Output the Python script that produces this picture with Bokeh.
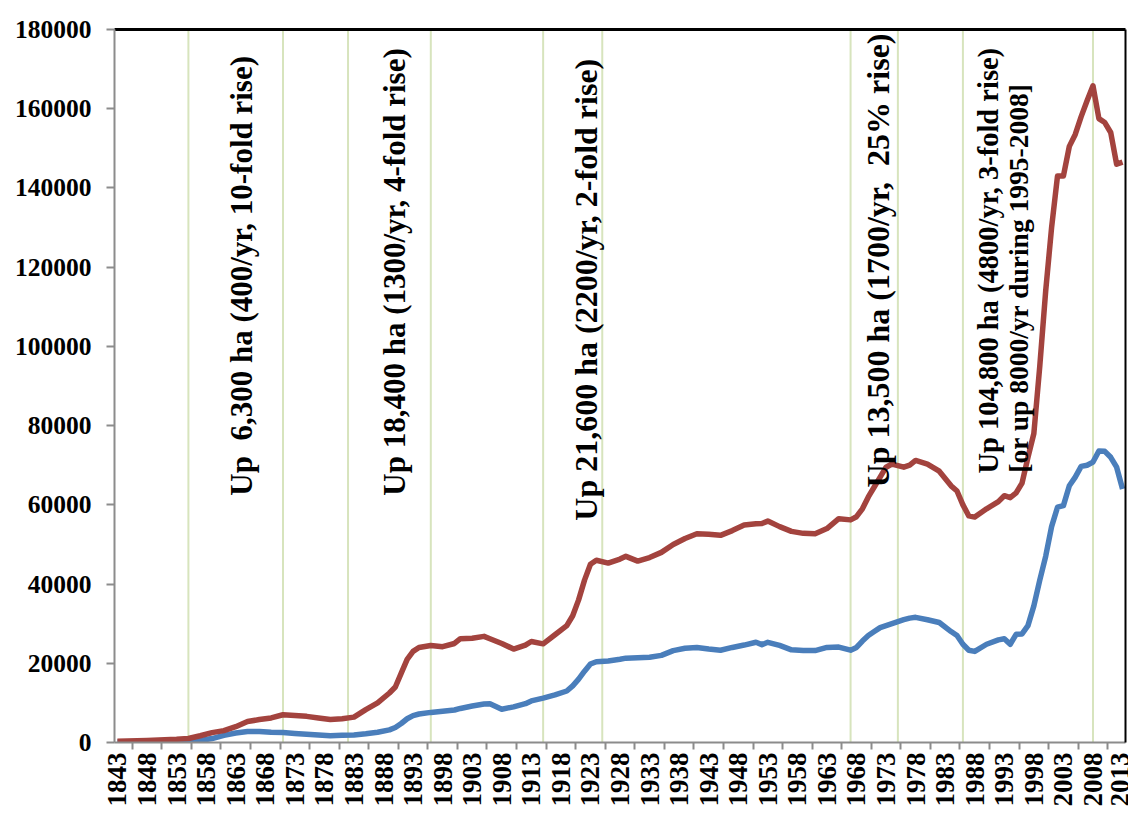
import math
from bokeh.plotting import figure
from bokeh.models import FixedTicker, LinearAxis, Label, Span, Range1d
from bokeh.embed import file_html
from bokeh.resources import INLINE

# ---- data ----
years = [
    1843, 1848, 1853, 1855, 1857, 1859, 1861, 1863, 1865, 1867,
    1869, 1871, 1873, 1875, 1877, 1879, 1881, 1883, 1885, 1887,
    1889, 1890, 1891, 1892, 1893, 1894, 1896, 1898, 1900, 1901,
    1903, 1905, 1906, 1908, 1910, 1912, 1913, 1915, 1917, 1919,
    1920, 1921, 1922, 1923, 1924, 1926, 1928, 1929, 1931, 1933,
    1935, 1937, 1939, 1941, 1943, 1945, 1947, 1949, 1951, 1952,
    1953, 1955, 1957, 1959, 1961, 1963, 1965, 1967, 1968, 1969,
    1970, 1971, 1972, 1973, 1974, 1976, 1977, 1978, 1980, 1982,
    1984, 1985, 1986, 1987, 1988, 1990, 1992, 1993, 1994, 1995,
    1996, 1997, 1998, 1999, 2000, 2001, 2002, 2003, 2004, 2005,
    2006, 2007, 2008, 2009, 2010, 2011, 2012, 2013]

red = [
    300, 500, 800, 1000, 1700, 2500, 3000, 4000, 5300, 5800,
    6200, 7000, 6800, 6600, 6200, 5800, 6000, 6400, 8300, 10000,
    12500, 14000, 17500, 21000, 23000, 24000, 24500, 24200, 25000, 26200,
    26300, 26800, 26200, 25000, 23600, 24600, 25500, 24900, 27200, 29500,
    32000, 36000, 41000, 45000, 46000, 45300, 46300, 47000, 45800, 46700,
    48000, 50000, 51500, 52700, 52600, 52300, 53500, 54900, 55200, 55300,
    55900, 54500, 53300, 52800, 52700, 54000, 56500, 56200, 57000, 59000,
    62000, 64500, 67000, 69500, 70300, 69500, 70000, 71200, 70300, 68500,
    64800, 63500, 60000, 57200, 56900, 59000, 60800, 62300, 61800, 63000,
    65500, 72000, 78000, 95000, 114000, 130000, 143000, 143000, 150500, 153500,
    158000, 162000, 165800, 157500, 156500, 154000, 146000, 146500]

blue = [
    100, 100, 150, 250, 500, 1000, 1800, 2400, 2800, 2800,
    2600, 2500, 2300, 2100, 1900, 1700, 1800, 1900, 2200, 2600,
    3200, 3800, 4800, 6000, 6800, 7200, 7600, 7900, 8200, 8600,
    9200, 9700, 9800, 8400, 9000, 9800, 10500, 11200, 12000, 13000,
    14300, 16000, 18000, 19800, 20400, 20600, 21000, 21300, 21400, 21500,
    22000, 23200, 23800, 24000, 23600, 23300, 24000, 24600, 25300, 24700,
    25300, 24500, 23400, 23200, 23200, 24000, 24100, 23300, 24000, 25600,
    27000, 28000, 29000, 29500, 30000, 31000, 31400, 31600, 31000, 30300,
    28000, 27000, 24800, 23300, 23000, 24800, 25900, 26200, 24800, 27300,
    27400, 29500, 34500, 41000, 47000, 54500, 59400, 59800, 64800, 67000,
    69700, 70000, 70800, 73600, 73500, 72000, 69500, 64000]

x_tick_years = list(range(1843, 2014, 5))
x_tick_labels = [str(y) for y in x_tick_years]
y_ticks = [0, 20000, 40000, 60000, 80000, 100000, 120000, 140000, 160000, 180000]
y_tick_labels = ["0", "20000", "40000", "60000", "80000", "100000",
                 "120000", "140000", "160000", "180000"]

period_years = [1855, 1871, 1882, 1896, 1915, 1925, 1967, 1975, 1986, 2008]

NB = "\u00a0"
notes = [
    "Up" + NB + " 6,300 ha (400/yr, 10-fold rise)",
    "Up 18,400 ha (1300/yr, 4-fold rise)",
    "Up 21,600 ha (2200/yr, 2-fold rise)",
    "Up 13,500 ha (1700/yr," + NB + " 25% rise)",
    "Up 104,800 ha (4800/yr, 3-fold rise)",
    "[or up 8000/yr during 1995-2008]",
]
note_x = [1864.0, 1889.9, 1922.3, 1971.7, 1990.3, 1995.4]
note_y = [62300, 62300, 56000, 64400, 67900, 68100]
note_size = ["31px", "31px", "32px", "32px", "28.5px", "27.5px"]

RED = "#A3433E"
BLUE = "#4A7EBB"
AXIS_GREY = "#8C8C8C"
FONT = "Liberation Serif"

p = figure(frame_width=1011, frame_height=713,
           x_range=Range1d(1842.5, 2013.5), y_range=Range1d(0, 180000),
           output_backend="svg", toolbar_location=None,
           x_axis_location=None, y_axis_location="left",
           min_border_left=114, min_border_right=3,
           min_border_top=29, min_border_bottom=76)
p.grid.visible = False
p.outline_line_color = None
p.background_fill_color = "white"
p.border_fill_color = "white"

# y axis
ya = p.yaxis[0]
ya.ticker = FixedTicker(ticks=y_ticks)
ya.major_label_overrides = dict(zip(y_ticks, y_tick_labels))
ya.axis_line_color = AXIS_GREY
ya.axis_line_width = 2
ya.major_tick_line_color = AXIS_GREY
ya.major_tick_line_width = 2
ya.major_tick_out = 8
ya.major_tick_in = 0
ya.minor_tick_line_color = None
ya.major_label_standoff = 15
ya.major_label_text_font = FONT
ya.major_label_text_font_style = "bold"
ya.major_label_text_font_size = "25.5px"
ya.major_label_text_color = "black"

# x axis: tick marks between labels (no labels of its own)
ax_ticks = LinearAxis(
    ticker=FixedTicker(ticks=[1845.5 + 5 * k for k in range(34)]),
    axis_line_color=AXIS_GREY, axis_line_width=2,
    major_tick_line_color=AXIS_GREY, major_tick_line_width=2,
    major_tick_out=7, major_tick_in=0, minor_tick_line_color=None,
    major_label_text_color=None, major_label_text_font_size="1px",
    major_label_standoff=0)
p.add_layout(ax_ticks, "below")

# x axis: labels
ax_labels = LinearAxis(
    ticker=FixedTicker(ticks=x_tick_years),
    major_label_overrides=dict(zip(x_tick_years, x_tick_labels)),
    major_label_orientation=math.pi / 2,
    axis_line_color=None, major_tick_line_color=None,
    major_tick_out=0, major_tick_in=0, minor_tick_line_color=None,
    major_label_standoff=3,
    major_label_text_font=FONT, major_label_text_font_style="bold",
    major_label_text_font_size="27px", major_label_text_color="black")
p.add_layout(ax_labels, "below")

# top and right frame borders
top_axis = LinearAxis(ticker=FixedTicker(ticks=[]), axis_line_color="black",
                      axis_line_width=3, major_tick_line_color=None,
                      minor_tick_line_color=None, major_label_text_color=None,
                      major_label_standoff=0)
p.add_layout(top_axis, "above")
right_axis = LinearAxis(ticker=FixedTicker(ticks=[]), axis_line_color="black",
                        axis_line_width=2, major_tick_line_color=None,
                        minor_tick_line_color=None, major_label_text_color=None,
                        major_label_standoff=0)
p.add_layout(right_axis, "right")

# period separators
for yr in period_years:
    p.add_layout(Span(location=yr, dimension="height", line_color="#D7E4BD",
                      line_width=2, level="underlay"))

# series
p.line(years, blue, line_color=BLUE, line_width=5.5, line_join="round")
p.line(years, red, line_color=RED, line_width=5.5, line_join="round")

# annotations
for txt, xx, yy, fs in zip(notes, note_x, note_y, note_size):
    p.add_layout(Label(x=xx, y=yy, text=txt, angle=math.pi / 2,
                       text_align="left", text_baseline="middle",
                       text_font=FONT, text_font_style="bold",
                       text_font_size=fs, text_color="black"))

open("out.html", "w").write(file_html(p, INLINE))
